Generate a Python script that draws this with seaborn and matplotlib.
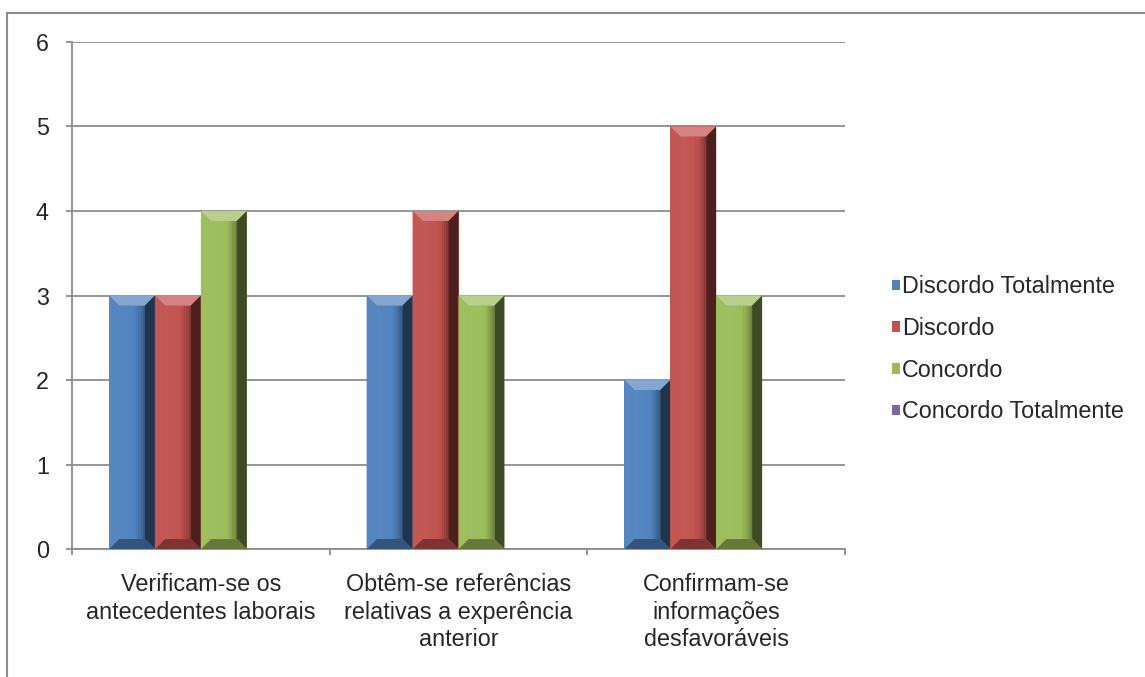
import matplotlib
matplotlib.use("Agg")
import matplotlib.pyplot as plt
import matplotlib.colors as mcolors
from matplotlib.patches import Polygon, Rectangle
from matplotlib.lines import Line2D
import seaborn as sns
import pandas as pd

categorias = [
    "Verificam-se os\nantecedentes laborais",
    "Obtêm-se referências\nrelativas a experência\nanterior",
    "Confirmam-se\ninformações\ndesfavoráveis",
]
series = ["Discordo Totalmente", "Discordo", "Concordo", "Concordo Totalmente"]
discordo_totalmente = [3, 3, 2]
discordo = [3, 4, 5]
concordo = [4, 3, 3]
concordo_totalmente = [0, 0, 0]
cores = ["#4F81BD", "#C0504D", "#9BBB59", "#8064A2"]

valores = [discordo_totalmente, discordo, concordo, concordo_totalmente]
df = pd.DataFrame(
    [(c, s, v) for s, vals in zip(series, valores) for c, v in zip(categorias, vals)],
    columns=["categoria", "serie", "valor"],
)

sns.set_theme(style="white")
plt.rcParams["font.family"] = ["Liberation Sans", "DejaVu Sans"]

FS = 16.8
GRID = "#8C8C8C"

fig = plt.figure(figsize=(11.45, 6.77), dpi=100)
ax = fig.add_axes([0.0629, 0.189, 0.6751, 0.749])

sns.barplot(
    data=df, x="categoria", y="valor", hue="serie", order=categorias,
    hue_order=series, palette=cores, width=0.713, ax=ax,
    saturation=1, errorbar=None, edgecolor="none", linewidth=0, legend=False,
)

ax.set_xlim(-0.5, 2.5)
ax.set_ylim(0, 6)
ax.set_yticks(range(0, 7))
ax.set_xlabel("")
ax.set_ylabel("")
ax.yaxis.grid(True, color=GRID, linewidth=1.3)
ax.set_axisbelow(True)
for s in ["top", "right"]:
    ax.spines[s].set_visible(False)
for s in ["left", "bottom"]:
    ax.spines[s].set_color(GRID)
    ax.spines[s].set_linewidth(1.3)

ax.set_xticks([-0.5, 0.5, 1.5, 2.5], minor=False)
ax.set_xticklabels([])
ax.set_xticks([0, 1, 2], minor=True)
ax.set_xticklabels(categorias, minor=True, fontsize=FS, linespacing=1.25)
ax.tick_params(axis="x", which="major", length=4.3, color=GRID, width=1.3, direction="out", bottom=True)
ax.tick_params(axis="x", which="minor", length=0, pad=17.5)
ax.tick_params(axis="y", length=4.3, color=GRID, width=1.3, direction="out", left=True,
               pad=12.4, labelsize=FS)

# bevelled bar faces
fig.canvas.draw()
bbox = ax.get_window_extent()
px_x = 3.0 / bbox.width
px_y = 6.0 / bbox.height
bev = 10
dx, dy = bev * px_x, bev * px_y


def shade(c, f):
    r, g, b = mcolors.to_rgb(c)
    if f >= 0:
        return (r + (1 - r) * f, g + (1 - g) * f, b + (1 - b) * f)
    return (r * (1 + f), g * (1 + f), b * (1 + f))


for p in list(ax.patches):
    h = p.get_height()
    if h <= 0:
        continue
    x0 = p.get_x()
    x1 = x0 + p.get_width()
    y0, y1 = 0, h
    base = p.get_facecolor()
    strips = 12
    for i in range(strips):
        t = (i + 0.5) / strips
        f = 0.05 * (1 - t) - 0.32 * max(0.0, t - 0.55) ** 1.5 / 0.45 ** 1.5
        xa = x0 + dx + (x1 - x0 - 2 * dx) * i / strips
        xb = x0 + dx + (x1 - x0 - 2 * dx) * (i + 1) / strips
        ax.add_patch(Rectangle((xa, y0 + dy), xb - xa, y1 - y0 - 2 * dy,
                               facecolor=shade(base, f), edgecolor="none", zorder=3))
    ax.add_patch(Polygon([(x0, y1), (x1, y1), (x1 - dx, y1 - dy), (x0 + dx, y1 - dy)],
                         facecolor=shade(base, 0.3), edgecolor="none", zorder=3))
    ax.add_patch(Polygon([(x1, y1), (x1, y0), (x1 - dx, y0 + dy), (x1 - dx, y1 - dy)],
                         facecolor=shade(base, -0.6), edgecolor="none", zorder=3))
    ax.add_patch(Polygon([(x0, y0), (x1, y0), (x1 - dx, y0 + dy), (x0 + dx, y0 + dy)],
                         facecolor=shade(base, -0.35), edgecolor="none", zorder=3))
    ax.add_patch(Polygon([(x0, y0), (x0, y1), (x0 + dx, y1 - dy), (x0 + dx, y0 + dy)],
                         facecolor=shade(base, 0.04), edgecolor="none", zorder=3))

handles = [Rectangle((0, 0), 1, 1, facecolor=c, edgecolor="none") for c in cores]
fig.legend(
    handles, series, loc="center left", bbox_to_anchor=(0.779, 0.484),
    frameon=False, fontsize=FS, handlelength=0.33, handleheight=0.33,
    handletextpad=0.1, labelspacing=0.8, borderaxespad=0, borderpad=0,
)

# outer chart frame: top and left edges
fig.add_artist(Line2D([0.0061, 1.0], [0.981, 0.981], transform=fig.transFigure,
                      color=GRID, linewidth=1.5))
fig.add_artist(Line2D([0.0061, 0.0061], [0.0, 0.981], transform=fig.transFigure,
                      color=GRID, linewidth=1.5))

fig.savefig("out.png", dpi=100)
